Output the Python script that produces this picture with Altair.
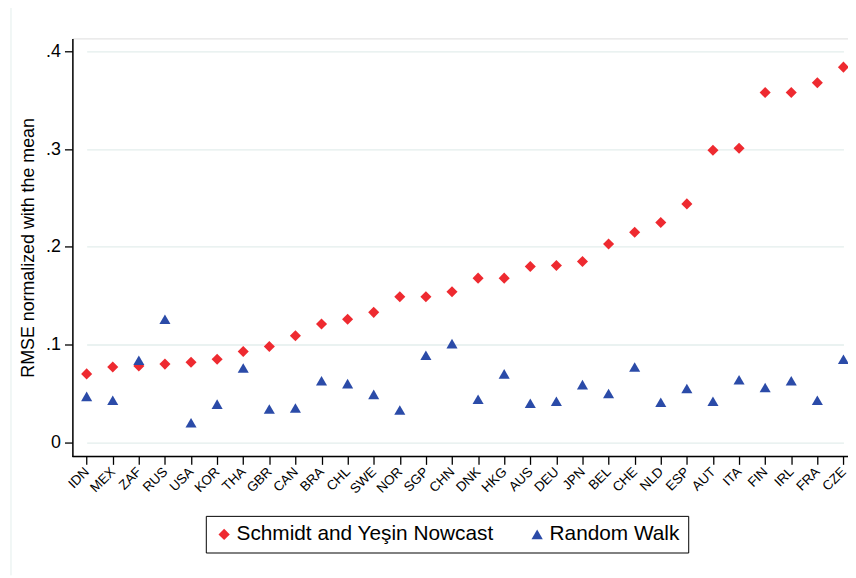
import altair as alt
import pandas as pd

countries = ["IDN", "MEX", "ZAF", "RUS", "USA", "KOR", "THA", "GBR", "CAN", "BRA",
             "CHL", "SWE", "NOR", "SGP", "CHN", "DNK", "HKG", "AUS", "DEU", "JPN",
             "BEL", "CHE", "NLD", "ESP", "AUT", "ITA", "FIN", "IRL", "FRA", "CZE"]

nowcast = [0.070, 0.077, 0.078, 0.080, 0.082, 0.085, 0.093, 0.098, 0.109, 0.121,
           0.126, 0.133, 0.149, 0.149, 0.154, 0.168, 0.168, 0.180, 0.181, 0.185,
           0.203, 0.215, 0.225, 0.244, 0.299, 0.301, 0.358, 0.358, 0.368, 0.384]

random_walk = [0.047, 0.043, 0.084, 0.126, 0.020, 0.039, 0.076, 0.034, 0.035, 0.063,
               0.060, 0.049, 0.033, 0.089, 0.101, 0.044, 0.070, 0.040, 0.042, 0.059,
               0.050, 0.077, 0.041, 0.055, 0.042, 0.064, 0.056, 0.063, 0.043, 0.085]

series_names = ["Schmidt and Yeşin Nowcast", "Random Walk"]
series_colors = ["#EE2A30", "#2B4BA8"]
series_shapes = ["diamond", "triangle-up"]

rows = []
for c, v in zip(countries, nowcast):
    rows.append({"country": c, "series": series_names[0], "value": v})
for c, v in zip(countries, random_walk):
    rows.append({"country": c, "series": series_names[1], "value": v})
df = pd.DataFrame(rows)

FONT = "Liberation Sans"
W = 783
H = 422

points = alt.Chart(df).mark_point(filled=True, opacity=1, size=125).encode(
    x=alt.X("country:N", sort=countries,
            scale=alt.Scale(type="point", range=[14.4, 778.4], padding=0),
            axis=alt.Axis(title=None, labelAngle=-45, labelFontSize=13.5,
                          labelFont=FONT, labelColor="#000", tickSize=8,
                          tickColor="#000", tickWidth=1.3, domain=False,
                          labelAlign="right", labelBaseline="middle",
                          labelPadding=5, grid=False, labelBound=False)),
    y=alt.Y("value:Q",
            scale=alt.Scale(domain=[-0.0145, 0.4134], nice=False, zero=False),
            axis=alt.Axis(title="RMSE normalized with the mean", values=[0, 0.1, 0.2, 0.3, 0.4],
                          labelExpr="datum.value == 0 ? '0' : replace(format(datum.value, '.1f'), '0.', '.')",
                          labelFontSize=18, labelFont=FONT, labelColor="#000",
                          titleFont=FONT, titleFontSize=18, titleFontWeight="normal",
                          titleColor="#000", titlePadding=8, labelPadding=4,
                          tickSize=8, tickColor="#000", tickWidth=1.3,
                          domainColor="#000", domainWidth=1.5,
                          grid=True, gridColor="#E3EEEC", gridWidth=1.3)),
    color=alt.Color("series:N", scale=alt.Scale(domain=series_names, range=series_colors),
                    legend=alt.Legend(title=None, orient="none", legendX=134.7, legendY=482,
                                      direction="horizontal", columns=2,
                                      labelFont=FONT, labelFontSize=21, labelColor="#000",
                                      labelLimit=500,
                                      symbolSize=130, symbolOpacity=1,
                                      labelOffset=2, columnPadding=33, padding=8,
                                      strokeColor="#000", fillColor="#fff",
                                      symbolStrokeWidth=0)),
    shape=alt.Shape("series:N", scale=alt.Scale(domain=series_names, range=series_shapes)),
)

xline = alt.Chart(pd.DataFrame({"k": [0]})).mark_rule(color="#000", strokeWidth=1.5).encode(
    x=alt.value(0), x2=alt.value(W), y=alt.value(H)
)

border = alt.Chart(pd.DataFrame({"k": [0]})).mark_rule(color="#E3EEEC", strokeWidth=1).encode(
    x=alt.value(-62), y=alt.value(-31), y2=alt.value(542)
)

chart = alt.layer(border, points, xline).properties(
    width=W, height=H,
    autosize=alt.AutoSizeParams(type="none"),
    padding={"left": 65, "top": 28, "right": 0, "bottom": 118},
).configure_view(stroke=None).configure(background="#fff")

chart.save("out.html", embed_options={"renderer": "svg", "actions": False})
